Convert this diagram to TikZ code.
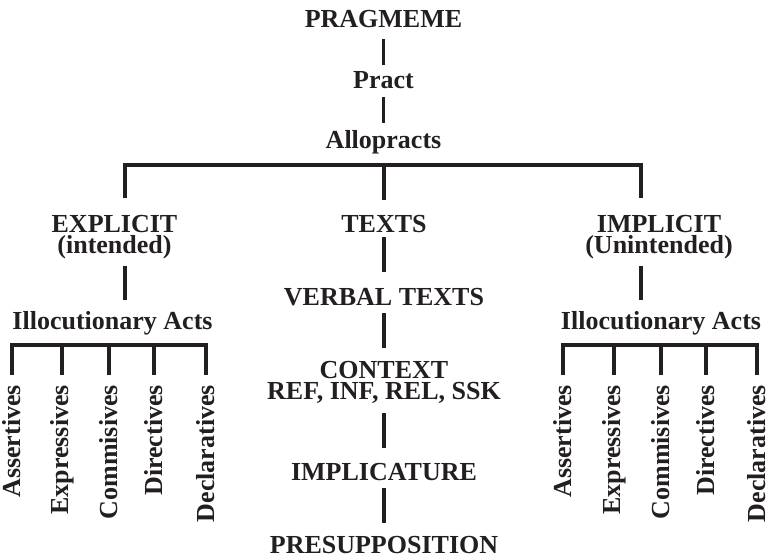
\documentclass[tikz,border=0pt]{standalone}
\usepackage{fontspec}
\setmainfont{Liberation Serif}
\usetikzlibrary{positioning}
\definecolor{ink}{RGB}{35,31,32}

\begin{document}
\begin{tikzpicture}[
    x=1pt, y=-1pt,
    lbl/.style={inner sep=0pt, outer sep=0pt, text=ink, align=center, font=\bfseries\fontsize{26}{21}\selectfont},
    act/.style={lbl, rotate=90, anchor=east},
    link/.style={draw=ink, line width=3.3pt}
  ]
    \useasboundingbox (0,0) rectangle (768,557);
    % top of the tree
    \node[lbl, anchor=base] (prag) at (383.5,27) {PRAGMEME};
    \node[lbl, anchor=base] (pract) at (383.5,88) {Pract};
    \node[lbl, anchor=base] (allo) at (383.5,148) {Allopracts};
    \draw[link, shorten <=12pt, shorten >=6pt] (prag) -- (pract);
    \draw[link, shorten <=9pt, shorten >=7pt] (pract) -- (allo);

    % three branches
    \coordinate (barL) at (125,165);
    \coordinate (barM) at (384,165);
    \coordinate (barR) at (641,165);
    \node[lbl, anchor=north] (expl) at (114.5,215) {EXPLICIT\\(intended)};
    \node[lbl, anchor=base] (texts) at (384,232) {TEXTS};
    \node[lbl, anchor=north] (impl) at (659,215) {IMPLICIT\\(Unintended)};
    \draw[link, shorten <=17pt, shorten >=17pt] (barL |- expl.north) -- (barL) -- (barR) -- (barR |- impl.north);
    \draw[link, shorten >=15pt] (barM) -- (barM |- texts.north);

    % acts on both sides
    \node[lbl, anchor=base] (illoL) at (112.5,329) {Illocutionary Acts};
    \node[lbl, anchor=base] (illoR) at (661,329) {Illocutionary Acts};
    \draw[link, shorten <=7pt, shorten >=11pt] (barL |- expl.south) -- (barL |- illoL.north);
    \draw[link, shorten <=7pt, shorten >=11pt] (barR |- impl.south) -- (barR |- illoR.north);

    % middle column
    \node[lbl, anchor=base] (verbal) at (384,305) {VERBAL TEXTS};
    \node[lbl, anchor=north] (context) at (384,361) {CONTEXT\\REF, INF, REL, SSK};
    \node[lbl, anchor=base] (implic) at (384,480) {IMPLICATURE};
    \node[lbl, anchor=base] (presup) at (384,553) {PRESUPPOSITION};
    \draw[link, shorten <=5pt, shorten >=16pt] (texts) -- (verbal);
    \draw[link, shorten <=8pt, shorten >=13pt] (verbal) -- (context);
    \draw[link, shorten <=10pt, shorten >=15pt] (context) -- (implic);
    \draw[link, shorten <=8pt, shorten >=13pt] (implic) -- (presup);

    % the five kinds, left and right
    \foreach \name/\x [count=\i] in {Assertives/12, Expressives/62, Commisives/109, Directives/154, Declaratives/206}
      \node[act] (aL\i) at (\x,385) {\name};
    \foreach \name/\x [count=\i] in {Assertives/563, Expressives/614, Commisives/661, Directives/706, Declaratives/757}
      \node[act] (aR\i) at (\x,385) {\name};
    \draw[link] ([yshift=10pt]aL1.east) |- ([yshift=40pt]aL5.east) -- ([yshift=10pt]aL5.east);
    \draw[link] ([yshift=10pt]aR1.east) |- ([yshift=40pt]aR5.east) -- ([yshift=10pt]aR5.east);
    \foreach \i in {2,3,4} {
      \draw[link] ([yshift=10pt]aL\i.east) -- ([yshift=40pt]aL\i.east);
      \draw[link] ([yshift=10pt]aR\i.east) -- ([yshift=40pt]aR\i.east);
    }
  \end{tikzpicture}
\end{document}
